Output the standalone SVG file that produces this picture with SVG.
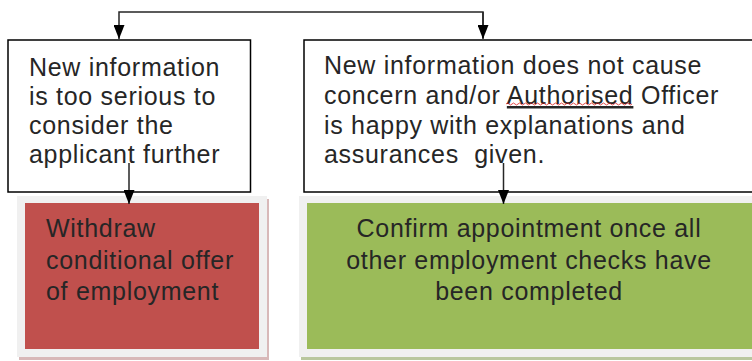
<svg xmlns="http://www.w3.org/2000/svg" width="752" height="361" viewBox="0 0 752 361">
<style>
.box{fill:#ffffff;stroke:#000000;stroke-width:1.5}
.frame{fill:#f0f0f0}
.t{font-family:"Liberation Sans",Arial,sans-serif;font-size:25px;fill:#262626;letter-spacing:0.7px}
.c{fill:none;stroke:#262626;stroke-width:1.5}
</style>
<defs>
<marker id="ah" viewBox="0 0 14 11" refX="14" refY="5.5" markerWidth="14" markerHeight="11" markerUnits="userSpaceOnUse" orient="auto">
<path d="M0,0 L14,5.5 L0,11 Z" fill="#000000"/>
</marker>
</defs>
<rect width="752" height="361" fill="#ffffff"/>
<g id="node-too-serious">
<rect class="box" x="8" y="40" width="242.5" height="152"/>
<text class="t" x="29" y="76">New information</text>
<text class="t" x="29" y="105">is too serious to</text>
<text class="t" x="29" y="134">consider the</text>
<text class="t" x="29" y="163">applicant further</text>
</g>
<g id="node-no-concern">
<rect class="box" x="304" y="40" width="452" height="152"/>
<text class="t" x="324" y="74">New information does not cause</text>
<text class="t" x="324" y="104">concern and/or <tspan text-decoration="underline">Authorised</tspan> Officer</text>
<text class="t" x="324" y="134">is happy with explanations and</text>
<text class="t" x="324" y="163" xml:space="preserve">assurances  given.</text>
<path d="M506,104 q1.5,-2 3,0 t3,0 t3,0 t3,0 t3,0 t3,0 t3,0 t3,0 t3,0 t3,0 t3,0 t3,0 t3,0 t3,0 t3,0 t3,0 t3,0 t3,0 t3,0 t3,0 t3,0 t3,0 t3,0 t3,0 t3,0 t3,0 t3,0 t3,0 t3,0 t3,0 t3,0 t3,0 t3,0 t3,0 t3,0 t3,0 t3,0 t3,0 t3,0 t3,0 t3,0 t3,0" fill="none" stroke="#e02020" stroke-width="0.8"/>
</g>
<g id="node-withdraw">
<rect x="19" y="199" width="250" height="161" fill="#d8b8b8"/>
<rect class="frame" x="17" y="196" width="250" height="161"/>
<rect x="25" y="203" width="234" height="146" fill="#c0504d"/>
<text class="t" x="46" y="237" fill="#1a1a1a">Withdraw</text>
<text class="t" x="46" y="269" fill="#1a1a1a">conditional offer</text>
<text class="t" x="46" y="300" fill="#1a1a1a">of employment</text>
</g>
<g id="node-confirm">
<rect x="301" y="199" width="460" height="161" fill="#b9c79e"/>
<rect class="frame" x="299" y="196" width="460" height="161"/>
<rect x="307" y="203" width="450" height="146" fill="#9bbb59"/>
<text class="t" x="529" y="237" text-anchor="middle" fill="#1a1a1a">Confirm appointment once all</text>
<text class="t" x="529" y="269" text-anchor="middle" fill="#1a1a1a">other employment checks have</text>
<text class="t" x="529" y="300" text-anchor="middle" fill="#1a1a1a">been completed</text>
</g>
<g id="connectors">
<path class="c" d="M483,38 V12 H119 V39" marker-end="url(#ah)"/>
<path class="c" d="M483,12 V39" marker-end="url(#ah)"/>
<path class="c" d="M129,163 V204" marker-end="url(#ah)"/>
<path class="c" d="M503.5,163 V204" marker-end="url(#ah)"/>
</g>
</svg>
